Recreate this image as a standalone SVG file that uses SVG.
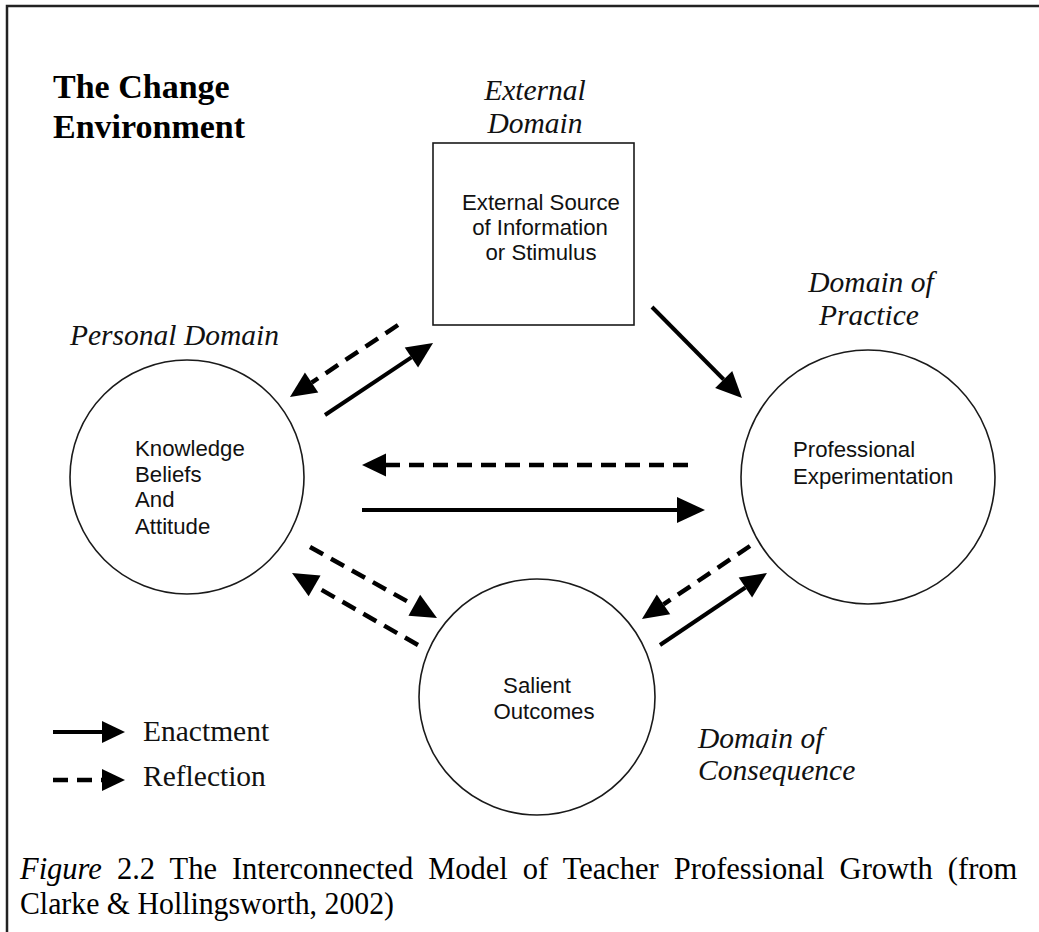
<svg xmlns="http://www.w3.org/2000/svg" width="1039" height="932" viewBox="0 0 1039 932">
<style>
.node{fill:none;stroke:#1a1a1a;stroke-width:1.6}
.lbl{font-family:"Liberation Sans",Arial,sans-serif;font-size:22.2px;fill:#111}
.dom{font-family:"Liberation Serif","Times New Roman",serif;font-style:italic;font-size:29.5px;fill:#111}
.leg{font-family:"Liberation Serif","Times New Roman",serif;font-size:29.5px;fill:#111}
.title{font-family:"Liberation Serif","Times New Roman",serif;font-weight:bold;font-size:34px;fill:#000}
.cap{font-family:"Liberation Serif","Times New Roman",serif;font-size:30.5px;fill:#000}
.solid{stroke:#000;fill:none;stroke-width:4}
.dash{stroke:#000;fill:none;stroke-width:4.5;stroke-dasharray:15 9}
</style>
<defs>
<marker id="ah" markerUnits="userSpaceOnUse" markerWidth="26" markerHeight="24" refX="0" refY="12" orient="auto" overflow="visible"><path d="M0,0 L26,12 L0,24 Z" fill="#000"/></marker>
<marker id="ahL" markerUnits="userSpaceOnUse" markerWidth="28" markerHeight="26" refX="0" refY="13" orient="auto" overflow="visible"><path d="M0,0 L28,13 L0,26 Z" fill="#000"/></marker>
<marker id="ahM" markerUnits="userSpaceOnUse" markerWidth="24" markerHeight="23" refX="0" refY="11.5" orient="auto" overflow="visible"><path d="M0,0 L24,11.5 L0,23 Z" fill="#000"/></marker>
<marker id="ahS" markerUnits="userSpaceOnUse" markerWidth="23" markerHeight="22" refX="0" refY="11" orient="auto" overflow="visible"><path d="M0,0 L23,11 L0,22 Z" fill="#000"/></marker>
</defs>
<rect width="1039" height="932" fill="#fff"/>
<rect x="7" y="6" width="1060" height="960" fill="none" stroke="#222" stroke-width="2.5"/>

<g id="title">
<text class="title" x="53" y="98">The Change</text>
<text class="title" x="53" y="138">Environment</text>
</g>

<g id="domain-labels">
<text class="dom" x="535" y="100" text-anchor="middle">External</text>
<text class="dom" x="535" y="133" text-anchor="middle">Domain</text>
<text class="dom" x="70" y="345">Personal Domain</text>
<text class="dom" x="871" y="292" text-anchor="middle">Domain of</text>
<text class="dom" x="869" y="325" text-anchor="middle">Practice</text>
<text class="dom" x="698" y="748">Domain of</text>
<text class="dom" x="698" y="780">Consequence</text>
</g>

<g id="external-source">
<rect class="node" x="433" y="143" width="201" height="182"/>
<text class="lbl" x="541" y="210" text-anchor="middle">External Source</text>
<text class="lbl" x="540" y="235" text-anchor="middle">of Information</text>
<text class="lbl" x="541" y="260" text-anchor="middle">or Stimulus</text>
</g>

<g id="knowledge">
<circle class="node" cx="187" cy="477" r="117"/>
<text class="lbl" x="135" y="456">Knowledge</text>
<text class="lbl" x="135" y="482">Beliefs</text>
<text class="lbl" x="135" y="507">And</text>
<text class="lbl" x="135" y="534">Attitude</text>
</g>

<g id="experimentation">
<circle class="node" cx="868" cy="477" r="127"/>
<text class="lbl" x="793" y="457">Professional</text>
<text class="lbl" x="793" y="484">Experimentation</text>
</g>

<g id="outcomes">
<circle class="node" cx="537" cy="697" r="118"/>
<text class="lbl" x="537" y="693" text-anchor="middle">Salient</text>
<text class="lbl" x="544" y="719" text-anchor="middle">Outcomes</text>
</g>

<g id="connectors">
<line class="dash" x1="398" y1="325" x2="311.6" y2="382.6" marker-end="url(#ah)"/>
<line class="solid" x1="325" y1="415" x2="411.4" y2="357.4" marker-end="url(#ah)"/>
<line class="solid" x1="652" y1="307" x2="723.7" y2="379.5" stroke-width="3.5" marker-end="url(#ah)"/>
<line class="dash" x1="688" y1="465" x2="386" y2="465" stroke-width="5.5" stroke-dasharray="19 6" marker-end="url(#ahM)"/>
<line class="solid" x1="362" y1="510" x2="677" y2="510" stroke-width="6" marker-end="url(#ahL)"/>
<line class="dash" x1="310" y1="547" x2="414.3" y2="605.3" marker-end="url(#ah)"/>
<line class="dash" x1="418" y1="645" x2="314.6" y2="585.9" marker-end="url(#ah)"/>
<line class="dash" x1="750" y1="546" x2="663.5" y2="604.4" marker-end="url(#ah)"/>
<line class="solid" x1="660" y1="645" x2="745.4" y2="587.5" marker-end="url(#ah)"/>
</g>

<g id="legend">
<line class="solid" x1="53" y1="732" x2="102" y2="732" stroke-width="5" marker-end="url(#ahS)"/>
<text class="leg" x="143" y="741">Enactment</text>
<line class="dash" x1="53" y1="780" x2="102" y2="780" stroke-width="5" stroke-dasharray="15 12" marker-end="url(#ahS)"/>
<text class="leg" x="143" y="786">Reflection</text>
</g>

<g id="caption">
<text class="cap" x="20" y="879" word-spacing="7.4"><tspan font-style="italic">Figure</tspan> 2.2 The Interconnected Model of Teacher Professional Growth (from</text>
<text class="cap" x="20" y="914" textLength="374" lengthAdjust="spacingAndGlyphs">Clarke &amp; Hollingsworth, 2002)</text>
</g>
</svg>
